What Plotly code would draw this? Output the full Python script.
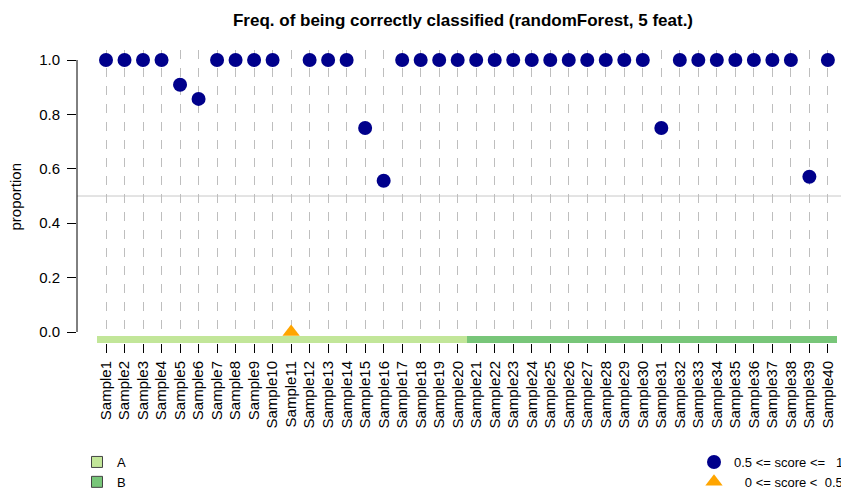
import plotly.graph_objects as go

samples = [f"Sample{i}" for i in range(1, 41)]
groups = ["A"] * 20 + ["B"] * 20
proportion = [1.0, 1.0, 1.0, 1.0, 0.909, 0.857, 1.0, 1.0, 1.0, 1.0,
              0.0, 1.0, 1.0, 1.0, 0.75, 0.556, 1.0, 1.0, 1.0, 1.0,
              1.0, 1.0, 1.0, 1.0, 1.0, 1.0, 1.0, 1.0, 1.0, 1.0,
              0.75, 1.0, 1.0, 1.0, 1.0, 1.0, 1.0, 1.0, 0.571, 1.0]
group_colors = {"A": "#C2E699", "B": "#78C679"}
y_ticks = [0.0, 0.2, 0.4, 0.6, 0.8, 1.0]
threshold = 0.5

FONT = "Liberation Sans, Arial, sans-serif"
W, H = 841, 486  # page body has an 8px margin

fig = go.Figure()

# group band under the x axis
for g in ["A", "B"]:
    xs = [s for s, gg in zip(samples, groups) if gg == g]
    fig.add_trace(go.Bar(
        x=xs, y=[0.0257] * len(xs), base=-0.0404, width=1.0,
        marker=dict(color=group_colors[g], line=dict(width=0)),
        showlegend=False, hoverinfo="skip"))

# legend entries for groups
for g in ["A", "B"]:
    fig.add_trace(go.Scatter(
        x=[None], y=[None], mode="markers", name=g,
        marker=dict(symbol="square", size=11, color=group_colors[g],
                    line=dict(color="#444444", width=1)),
        legend="legend"))

hi_x = [s for s, p in zip(samples, proportion) if p >= threshold]
hi_y = [p for p in proportion if p >= threshold]
lo_x = [s for s, p in zip(samples, proportion) if p < threshold]
lo_y = [p for p in proportion if p < threshold]

fig.add_trace(go.Scatter(
    x=hi_x, y=hi_y, mode="markers",
    name="0.5 <= score <=\u00a0\u00a0\u00a01",
    marker=dict(symbol="circle", size=14, color="#00008B", line=dict(width=0)),
    legend="legend2"))
fig.add_trace(go.Scatter(
    x=lo_x, y=lo_y, mode="markers",
    name="\u00a0\u00a0\u00a00 <= score <\u00a0\u00a00.5",
    marker=dict(symbol="triangle-up", size=15, color="#FFA500", line=dict(width=0)),
    legend="legend2"))

fig.add_shape(type="line", xref="paper", x0=0, x1=1, yref="y",
              y0=threshold, y1=threshold, line=dict(color="#C8C8C8", width=1),
              layer="below")
fig.add_shape(type="line", xref="paper", x0=0, x1=0, yref="y",
              y0=min(y_ticks), y1=max(y_ticks), line=dict(color="black", width=1))

fig.add_annotation(text="proportion", textangle=-90, showarrow=False,
                   xref="paper", yref="paper", x=-62 / 772, y=0.5,
                   xanchor="center", yanchor="middle",
                   font=dict(size=15, family=FONT, color="black"))

fig.update_layout(
    width=W, height=H,
    margin=dict(l=69, r=0, t=42, b=151, autoexpand=False),
    paper_bgcolor="white", plot_bgcolor="white",
    font=dict(family=FONT, size=15, color="black"),
    barmode="overlay", bargap=0,
    title=dict(text="<b>Freq. of being correctly classified (randomForest, 5 feat.)</b>",
               x=455 / W, xanchor="center", y=(H - 12) / H, yanchor="middle",
               font=dict(size=17, family=FONT)),
    xaxis=dict(type="category", categoryorder="array", categoryarray=samples,
               range=[-1.567, 40.14], tickangle=-90,
               ticks="outside", ticklen=9, tickcolor="black", tickwidth=1,
               ticklabelstandoff=2,
               showline=False, zeroline=False, automargin=False,
               showgrid=True, gridcolor="#BEBEBE", griddash="dash", gridwidth=1,
               tickfont=dict(size=15), fixedrange=True),
    yaxis=dict(range=[-0.0404, 1.0368], tickvals=y_ticks, tickformat=".1f",
               ticks="outside", ticklen=9, tickcolor="black", automargin=False,
               ticklabelstandoff=4,
               showline=False, zeroline=False, showgrid=False,
               tickfont=dict(size=15)),
    legend=dict(xref="container", yref="container",
                x=69 / W, xanchor="left", y=(H - 439) / H, yanchor="top",
                bgcolor="rgba(0,0,0,0)", font=dict(size=13), itemwidth=30,
                tracegroupgap=0),
    legend2=dict(xref="container", yref="container",
                 x=686 / W, xanchor="left", y=(H - 439) / H, yanchor="top",
                 bgcolor="rgba(0,0,0,0)", font=dict(size=13), itemwidth=30,
                 tracegroupgap=0),
)

fig.write_html("out.html")
